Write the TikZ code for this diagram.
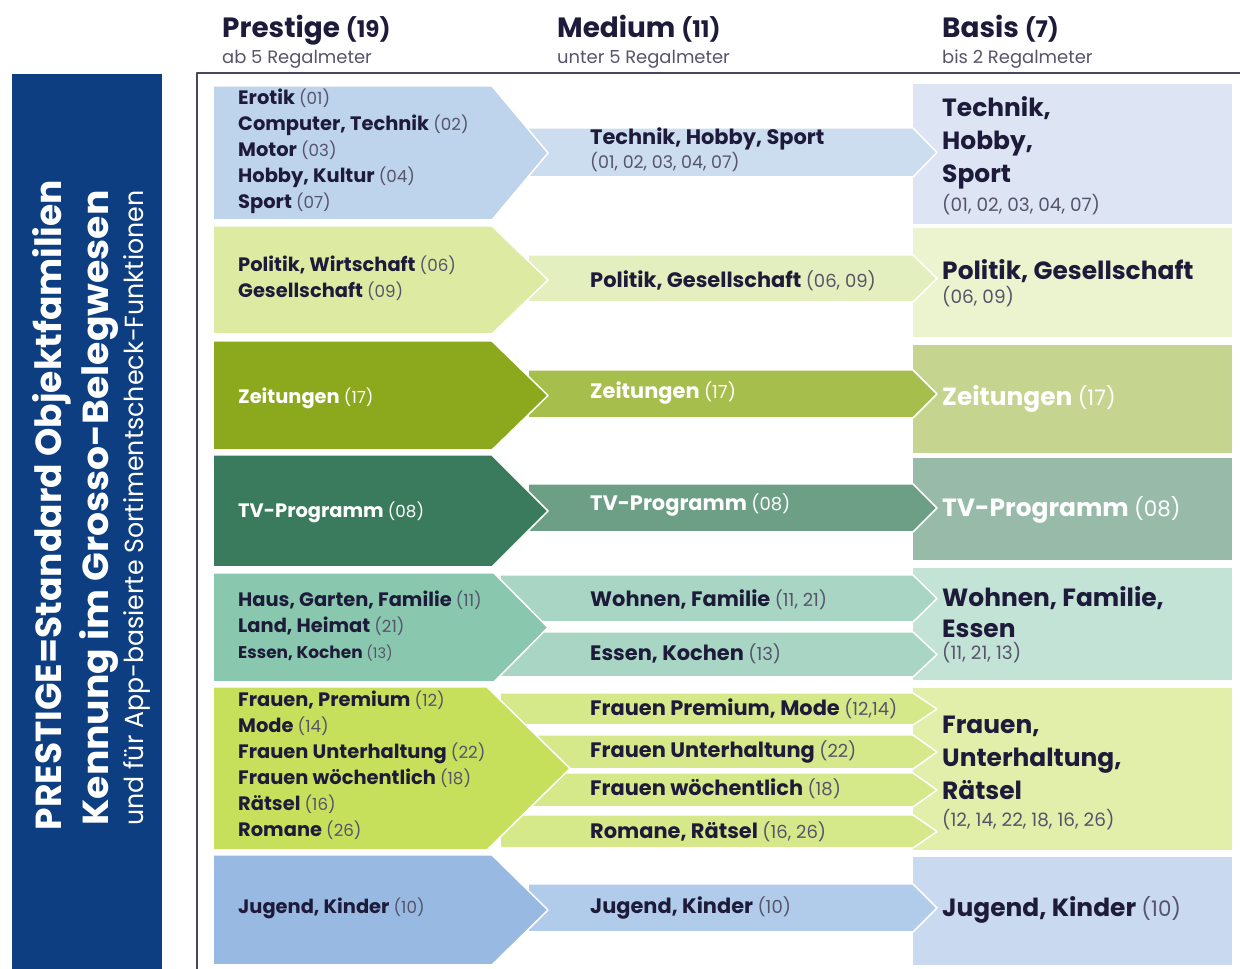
\documentclass[tikz,border=0pt]{standalone}
\usepackage{fontspec}
\setmainfont{Poppins}
\usetikzlibrary{positioning}

\definecolor{ink}{HTML}{1E1B3A}
\definecolor{subgray}{HTML}{55546A}
\definecolor{sidebar}{HTML}{0D3E82}
\definecolor{frameline}{HTML}{4B4560}
% Prestige / Medium / Basis colours per row
\definecolor{p1}{HTML}{BED3EC}\definecolor{m1}{HTML}{CDDDF0}\definecolor{b1}{HTML}{DDE4F4}
\definecolor{p2}{HTML}{DDEBA2}\definecolor{m2}{HTML}{E4EFBF}\definecolor{b2}{HTML}{EBF4CE}
\definecolor{p3}{HTML}{8CA81C}\definecolor{m3}{HTML}{A6BE4B}\definecolor{b3}{HTML}{C5D48F}
\definecolor{p4}{HTML}{3B7B5D}\definecolor{m4}{HTML}{6C9F86}\definecolor{b4}{HTML}{98BBA9}
\definecolor{p5}{HTML}{89C8AE}\definecolor{m5}{HTML}{A9D6C4}\definecolor{b5}{HTML}{C4E3D7}
\definecolor{p6}{HTML}{C6E05B}\definecolor{m6}{HTML}{D5E98A}\definecolor{b6}{HTML}{E2EFAA}
\definecolor{p7}{HTML}{98B9E2}\definecolor{m7}{HTML}{B1CCEA}\definecolor{b7}{HTML}{C9D9F0}

\makeatletter
\newcommand{\nr}[1]{{\mdseries\color{.!75!white}\fontsize{\strip@pt\dimexpr0.86\dimexpr\f@size pt\relax\relax}{\f@baselineskip}\selectfont(#1)}}
\makeatother

\begin{document}
\begin{tikzpicture}[line join=bevel,
  txt/.style={anchor=west,inner sep=0pt,text=ink,align=left},
  lft/.style={txt,font=\fontsize{19.5}{26}\selectfont\bfseries},
  mid/.style={txt,font=\fontsize{21}{26}\selectfont\bfseries},
  bas/.style={txt,font=\fontsize{25}{33}\selectfont\bfseries},
  nrl/.style={txt,font=\fontsize{17.5}{20}\selectfont,text=subgray},
  head/.style={anchor=base west,inner sep=0pt,text=ink,font=\fontsize{28}{32}\selectfont\bfseries},
  headsub/.style={anchor=base west,inner sep=0pt,text=subgray,font=\fontsize{18}{20}\selectfont},
  side/.style={anchor=base,inner sep=0pt,text=white,rotate=90},
  chev/.style={draw=white,line width=1.5bp},
  ]
\useasboundingbox (0bp,0bp) rectangle (1240bp,969bp);
%%
\fill[sidebar] (12bp,895bp) rectangle (162bp,0bp);
\draw[frameline,line width=1.6bp] (1240bp,896bp) -- (197bp,896bp) -- (197bp,0bp);
%% Basis
\fill[b1] (913bp,885bp) rectangle (1232bp,745bp);
\fill[b2] (913bp,741bp) rectangle (1232bp,632bp);
\fill[b3] (913bp,624bp) rectangle (1232bp,516bp);
\fill[b4] (913bp,511bp) rectangle (1232bp,409bp);
\fill[b5] (913bp,401bp) rectangle (1232bp,289bp);
\fill[b6] (913bp,281bp) rectangle (1232bp,119bp);
\fill[b7] (913bp,112bp) rectangle (1232bp,4bp);
%% Medium
\path[chev,fill=m1] (528bp,841bp) -- (913bp,841bp) -- (937bp,816.5bp) -- (913bp,792bp) -- (528bp,792bp) -- cycle;
\path[chev,fill=m2] (528bp,714bp) -- (913bp,714bp) -- (937bp,690.5bp) -- (913bp,667bp) -- (528bp,667bp) -- cycle;
\path[chev,fill=m3] (528bp,599bp) -- (913bp,599bp) -- (937bp,575bp) -- (913bp,551bp) -- (528bp,551bp) -- cycle;
\path[chev,fill=m4] (528bp,485bp) -- (913bp,485bp) -- (937bp,461bp) -- (913bp,437bp) -- (528bp,437bp) -- cycle;
\path[chev,fill=m5] (500bp,394bp) -- (913bp,394bp) -- (937bp,370.5bp) -- (913bp,347bp) -- (500bp,347bp) -- cycle;
\path[chev,fill=m5] (500bp,337bp) -- (913bp,337bp) -- (937bp,314.5bp) -- (913bp,292bp) -- (500bp,292bp) -- cycle;
\path[chev,fill=m6] (500bp,276bp) -- (913bp,276bp) -- (937bp,260bp) -- (913bp,244bp) -- (500bp,244bp) -- cycle;
\path[chev,fill=m6] (500bp,234bp) -- (913bp,234bp) -- (937bp,217bp) -- (913bp,200bp) -- (500bp,200bp) -- cycle;
\path[chev,fill=m6] (500bp,196bp) -- (913bp,196bp) -- (937bp,179bp) -- (913bp,162bp) -- (500bp,162bp) -- cycle;
\path[chev,fill=m6] (500bp,154bp) -- (913bp,154bp) -- (937bp,137.5bp) -- (913bp,121bp) -- (500bp,121bp) -- cycle;
\path[chev,fill=m7] (528bp,85bp) -- (913bp,85bp) -- (937bp,61bp) -- (913bp,37bp) -- (528bp,37bp) -- cycle;
%% Prestige
\path[chev,fill=p1] (213bp,883bp) -- (492bp,883bp) -- (548bp,816bp) -- (492bp,749bp) -- (213bp,749bp) -- cycle;
\path[chev,fill=p2] (213bp,743bp) -- (492bp,743bp) -- (548bp,689bp) -- (492bp,635bp) -- (213bp,635bp) -- cycle;
\path[chev,fill=p3] (213bp,628bp) -- (492bp,628bp) -- (548bp,573.5bp) -- (492bp,519bp) -- (213bp,519bp) -- cycle;
\path[chev,fill=p4] (213bp,514bp) -- (492bp,514bp) -- (548bp,458bp) -- (492bp,402bp) -- (213bp,402bp) -- cycle;
\path[chev,fill=p5] (213bp,396bp) -- (494bp,396bp) -- (548bp,341.5bp) -- (494bp,287bp) -- (213bp,287bp) -- cycle;
\path[chev,fill=p6] (213bp,282bp) -- (487bp,282bp) -- (570bp,200.5bp) -- (487bp,119bp) -- (213bp,119bp) -- cycle;
\path[chev,fill=p7] (213bp,114bp) -- (492bp,114bp) -- (548bp,59bp) -- (492bp,4bp) -- (213bp,4bp) -- cycle;
%%
\node (hPre) at (222bp,931bp) [head] {Prestige {\fontsize{23}{28}\selectfont(19)}};
  \node (hPreSub) at (222bp,905bp) [headsub] {ab 5 Regalmeter};
  \node (hMed) at (557bp,931bp) [head] {Medium {\fontsize{23}{28}\selectfont(11)}};
  \node (hMedSub) at (557bp,905bp) [headsub] {unter 5 Regalmeter};
  \node (hBas) at (942bp,931bp) [head] {Basis {\fontsize{23}{28}\selectfont(7)}};
  \node (hBasSub) at (942bp,905bp) [headsub] {bis 2 Regalmeter};
  \node (sTitle) at (61bp,464bp) [side] {\resizebox{650bp}{29bp}{\bfseries PRESTIGE=Standard Objektfamilien}};
  \node (sKenn) at (108bp,461bp) [side] {\resizebox{635bp}{29bp}{\bfseries Kennung im Grosso-Belegwesen}};
  \node (sApp) at (143bp,461bp) [side] {\resizebox{635bp}{20bp}{und für App-basierte Sortimentscheck-Funktionen}};
%%
\node (pTech) at (238bp,817.5bp) [lft] {Erotik \nr{01}\\Computer, Technik \nr{02}\\Motor \nr{03}\\Hobby, Kultur \nr{04}\\Sport \nr{07}};
  \node (pPol) at (238bp,691bp) [lft] {Politik, Wirtschaft \nr{06}\\Gesellschaft \nr{09}};
  \node (pZeit) at (238bp,571bp) [lft,text=white] {Zeitungen \nr{17}};
  \node (pTV) at (238bp,457bp) [lft,text=white] {TV-Programm \nr{08}};
  \node (pHaus) at (238bp,343bp) [lft] {Haus, Garten, Familie \nr{11}\\Land, Heimat \nr{21}\\{\fontsize{17}{26}\selectfont Essen, Kochen \nr{13}}};
  \node (pFrau) at (238bp,203.5bp) [lft] {Frauen, Premium \nr{12}\\Mode \nr{14}\\Frauen Unterhaltung \nr{22}\\Frauen wöchentlich \nr{18}\\Rätsel \nr{16}\\Romane \nr{26}};
  \node (pJug) at (238bp,61bp) [lft] {Jugend, Kinder \nr{10}};
%%
\node (mTech) at (590bp,830bp) [mid] {Technik, Hobby, Sport};
  \node (mTechNr) at (590bp,807bp) [nrl] {(01, 02, 03, 04, 07)};
  \node (mPol) at (590bp,688bp) [mid] {Politik, Gesellschaft \nr{06, 09}};
  \node (mZeit) at (590bp,576bp) [mid,text=white] {Zeitungen \nr{17}};
  \node (mTV) at (590bp,464bp) [mid,text=white] {TV-Programm \nr{08}};
  \node (mWohn) at (590bp,369bp) [mid] {Wohnen, Familie \nr{11, 21}};
  \node (mEss) at (590bp,315bp) [mid] {Essen, Kochen \nr{13}};
  \node (mFrPr) at (590bp,260bp) [mid] {Frauen Premium, Mode \nr{12,14}};
  \node (mFrUn) at (590bp,217bp) [mid] {Frauen Unterhaltung \nr{22}};
  \node (mFrWo) at (590bp,180bp) [mid] {Frauen wöchentlich \nr{18}};
  \node (mRom) at (590bp,137bp) [mid] {Romane, Rätsel \nr{16, 26}};
  \node (mJug) at (590bp,61bp) [mid] {Jugend, Kinder \nr{10}};
%%
\node (bTech) at (942bp,826bp) [bas] {Technik,\\Hobby,\\Sport};
  \node (bTechNr) at (942bp,764bp) [nrl,font=\fontsize{18.5}{20}\selectfont] {(01, 02, 03, 04, 07)};
  \node (bPol) at (942bp,698bp) [bas] {Politik, Gesellschaft};
  \node (bPolNr) at (942bp,672bp) [nrl,font=\fontsize{18.5}{20}\selectfont] {(06, 09)};
  \node (bZeit) at (942bp,570bp) [bas,text=white] {Zeitungen \nr{17}};
  \node (bTV) at (942bp,459bp) [bas,text=white] {TV-Programm \nr{08}};
  \node (bWohn) at (942bp,356.5bp) [bas,font=\fontsize{25}{31}\selectfont\bfseries] {Wohnen, Familie,\\Essen};
  \node (bWohnNr) at (942bp,316bp) [nrl,font=\fontsize{18.5}{20}\selectfont] {(11, 21, 13)};
  \node (bFrau) at (942bp,211bp) [bas] {Frauen,\\Unterhaltung,\\Rätsel};
  \node (bFrauNr) at (942bp,149bp) [nrl,font=\fontsize{18.5}{20}\selectfont] {(12, 14, 22, 18, 16, 26)};
  \node (bJug) at (942bp,59bp) [bas] {Jugend, Kinder \nr{10}};
%
\end{tikzpicture}
\end{document}
